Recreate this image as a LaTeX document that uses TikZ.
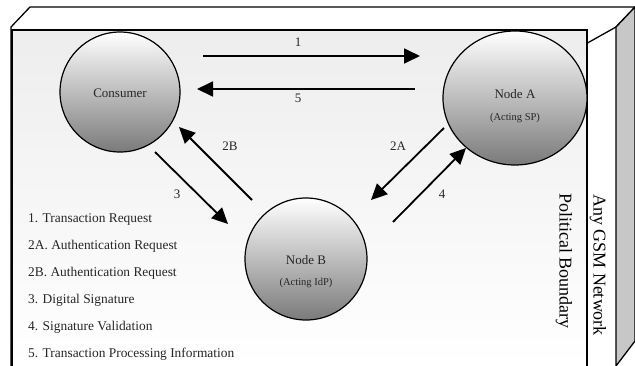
\documentclass[tikz,border=0pt]{standalone}
\usepackage{fontspec}
\setmainfont{Liberation Serif}
\usetikzlibrary{arrows.meta}
\tikzset{
  lbl/.style={font=\fontsize{13}{15}\selectfont, text=black!85, inner sep=0pt},
  legend/.style={font=\fontsize{13.4}{15}\selectfont, text=black!85, inner sep=0pt, anchor=base west},
  small/.style={font=\fontsize{10.5}{12}\selectfont, text=black!85, inner sep=0pt},
  bigrot/.style={font=\fontsize{18}{20}\selectfont, rotate=-90, inner sep=0pt},
  ball/.style={draw=black, line width=1.2pt, top color=white, middle color=black!20, bottom color=black!52},
  flow/.style={line width=1.8pt, -{Triangle[length=16pt,width=15pt]}},
}
\begin{document}
\begin{tikzpicture}[x=1pt,y=-1pt]
\useasboundingbox (0,0) rectangle (635,365);
% 3D box
\fill[white] (11,27) -- (30,7) -- (635,7) -- (616,27) -- cycle;
\draw[line width=1.3pt] (11,366) -- (11,27) -- (30,7) -- (635,7) -- (616,27) -- cycle;
\fill[black!22] (616,27) -- (635,7) -- (635,341) -- (616,366) -- cycle;
\draw[line width=1.3pt] (616,366) -- (616,27) -- (635,7) -- (635,341) -- (616,366);
% inner panel
\shade[top color=black!7, bottom color=white] (12,30) rectangle (587,366);
\draw[line width=1.6pt] (12,366) -- (12,30) -- (587,30) -- (587,366);
% side labels
\node[bigrot] (net) at (598,265) {Any GSM Network};
\node[bigrot] (pol) at (564,261) {Political Boundary};
% circles
\draw[ball] (120,92) circle[radius=60];
\node[lbl] (cons) at (120,93) {Consumer};
\draw[ball] (515,98) ellipse[x radius=72, y radius=67];
\node[lbl] (na) at (515,94) {Node A};
\node[small] (nasub) at (515,118) {(Acting SP)};
\draw[ball] (306,259) circle[radius=61];
\node[lbl] (nb) at (306,260) {Node B};
\node[small] (nbsub) at (306,283) {(Acting IdP)};
% arrow end points
\coordinate (a1s) at (203,56);
\coordinate (a1e) at (420,56);
\coordinate (a5s) at (415,89);
\coordinate (a5e) at (197,89);
\coordinate (a2Bs) at (252,200);
\coordinate (a2Be) at (179,127);
\coordinate (a3s) at (155,152);
\coordinate (a3e) at (228,224);
\coordinate (a2As) at (444,128);
\coordinate (a2Ae) at (371,200);
\coordinate (a4s) at (393,222);
\coordinate (a4e) at (466,148);
\draw[flow] (a1s) -- (a1e);
\draw[flow] (a5s) -- (a5e);
\draw[flow] (a2Bs) -- (a2Be);
\draw[flow] (a3s) -- (a3e);
\draw[flow] (a2As) -- (a2Ae);
\draw[flow] (a4s) -- (a4e);
% arrow labels
\node[lbl] (l1) at (298,42) {1};
\node[lbl] (l5) at (298,98) {5};
\node[lbl] (l2B) at (230,146) {2B};
\node[lbl] (l2A) at (398,146) {2A};
\node[lbl] (l3) at (177,194) {3};
\node[lbl] (l4) at (442,194) {4};
% legend
\node[legend] (t1) at (28,222) {1. Transaction Request};
\node[legend] (t2) at (28,249) {2A. Authentication Request};
\node[legend] (t3) at (28,276) {2B. Authentication Request};
\node[legend] (t4) at (28,303) {3. Digital Signature};
\node[legend] (t5) at (28,330) {4. Signature Validation};
\node[legend] (t6) at (28,357) {5. Transaction Processing Information};
\end{tikzpicture}
\end{document}
